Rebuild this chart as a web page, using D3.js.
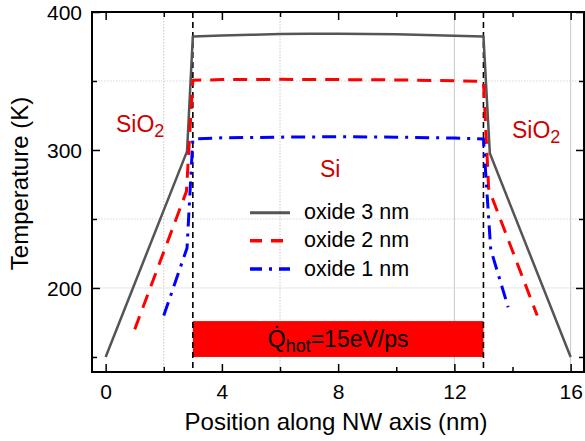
<!DOCTYPE html>
<html><head><meta charset="utf-8">
<script src="https://cdn.jsdelivr.net/npm/d3@7"></script>
<style>
body{margin:0;background:#fff;}
svg{display:block;font-family:"Liberation Sans",Arial,sans-serif;}
</style></head>
<body><svg id="c" width="585" height="441"></svg>
<script>
// ---- data ----
const xOxide3 = [0, 2.8, 3, 4, 5, 6, 7, 8, 9, 10, 11, 12, 13, 13.22, 16];
const yOxide3 = [150, 299, 382.3, 383, 383.5, 384, 384.2, 384.2, 384.1, 383.8, 383.3, 382.8, 382.2, 297.6, 150];
const xOxide2 = [1, 2.78, 3, 4, 6, 8, 10, 12, 13, 13.18, 14.85];
const yOxide2 = [170, 270, 350.5, 351, 351.2, 351, 350.8, 350.2, 349.8, 272, 180];
const xOxide1 = [2, 2.8, 3, 4, 6, 8, 10, 12, 13, 13.25, 13.85];
const yOxide1 = [180, 229, 308, 308.8, 309.3, 309.6, 309.3, 308.6, 308, 228, 186];
const seriesNames = ["oxide 3 nm", "oxide 2 nm", "oxide 1 nm"];
const xTicks = [0, 4, 8, 12, 16];
const xMinorTicks = [2, 6, 10, 14];
const yTicks = [200, 300, 400];
const yMinorTicks = [150, 250, 350];
const interfaces = [3, 13];
const heatBand = [150, 176];
const heatLabel = "15eV/ps";

// ---- layout ----
const svg = d3.select("#c");
const L = 92, R = 584, T = 12, B = 372;
const x = d3.scaleLinear().domain([-0.47, 16.46]).range([L, R]);
const y = d3.scaleLinear().domain([139.1, 400]).range([B, T]);

// grid
const g = svg.append("g");
[2, 6].forEach(v => g.append("line").attr("x1", x(v)).attr("x2", x(v)).attr("y1", T).attr("y2", B)
  .attr("stroke", "#c8c8c8").attr("stroke-width", 1).attr("stroke-dasharray", "1.5,1.5"));
[12, 16].forEach(v => g.append("line").attr("x1", x(v)).attr("x2", x(v)).attr("y1", T).attr("y2", B)
  .attr("stroke", "#c8c8c8").attr("stroke-width", 1));
[250, 350].forEach(v => g.append("line").attr("x1", L).attr("x2", R).attr("y1", y(v)).attr("y2", y(v))
  .attr("stroke", "#d8d8d8").attr("stroke-width", 1).attr("stroke-dasharray", "1.5,1.5"));
[200].forEach(v => g.append("line").attr("x1", L).attr("x2", R).attr("y1", y(v)).attr("y2", y(v))
  .attr("stroke", "#e4e4e4").attr("stroke-width", 1));

// heat band
svg.append("rect").attr("x", x(interfaces[0])).attr("width", x(interfaces[1]) - x(interfaces[0]))
  .attr("y", y(heatBand[1])).attr("height", y(heatBand[0]) - y(heatBand[1])).attr("fill", "#ff0000");

// interface dashed lines
interfaces.forEach(v => svg.append("line").attr("x1", x(v)).attr("x2", x(v)).attr("y1", T).attr("y2", B)
  .attr("stroke", "#000").attr("stroke-width", 1.6).attr("stroke-dasharray", "6,4"));

// series
const line = d3.line().x(d => x(d[0])).y(d => y(d[1]));
const series = [
  {xs: xOxide3, ys: yOxide3, color: "#555555", w: 2.5, dash: null},
  {xs: xOxide2, ys: yOxide2, color: "#ff0000", w: 3, dash: "14,9"},
  {xs: xOxide1, ys: yOxide1, color: "#0000ff", w: 3, dash: "14,7,3,7"}
];
series.forEach(s => {
  const pts = s.xs.map((v, i) => [v, s.ys[i]]);
  svg.append("path").attr("d", line(pts)).attr("fill", "none").attr("stroke", s.color)
    .attr("stroke-width", s.w).attr("stroke-dasharray", s.dash).attr("stroke-linejoin", "round");
});

// axes frame & ticks
const ax = svg.append("g");
ax.append("rect").attr("x", L).attr("y", T).attr("width", R - L).attr("height", B - T)
  .attr("fill", "none").attr("stroke", "#000").attr("stroke-width", 2);
const xAxB = d3.axisBottom(x).tickValues(xTicks).tickSize(-8).tickPadding(12).tickFormat(d3.format("d"));
const gx = ax.append("g").attr("transform", `translate(0,${B})`).call(xAxB);
const gxm = ax.append("g").attr("transform", `translate(0,${B})`).call(d3.axisBottom(x).tickValues(xMinorTicks).tickSize(-5).tickFormat(""));
const gxt = ax.append("g").attr("transform", `translate(0,${T})`).call(d3.axisTop(x).tickValues(xTicks).tickSize(-8).tickFormat(""));
const gxtm = ax.append("g").attr("transform", `translate(0,${T})`).call(d3.axisTop(x).tickValues(xMinorTicks).tickSize(-5).tickFormat(""));
const gy = ax.append("g").attr("transform", `translate(${L},0)`).call(d3.axisLeft(y).tickValues(yTicks).tickSize(-8).tickPadding(10));
const gym = ax.append("g").attr("transform", `translate(${L},0)`).call(d3.axisLeft(y).tickValues(yMinorTicks).tickSize(-5).tickFormat(""));
const gyr = ax.append("g").attr("transform", `translate(${R},0)`).call(d3.axisRight(y).tickValues(yTicks).tickSize(-8).tickFormat(""));
const gyrm = ax.append("g").attr("transform", `translate(${R},0)`).call(d3.axisRight(y).tickValues(yMinorTicks).tickSize(-5).tickFormat(""));
[gx, gxm, gxt, gxtm, gy, gym, gyr, gyrm].forEach(a => {
  a.select(".domain").remove();
  a.selectAll(".tick line").attr("stroke", "#000").attr("stroke-width", 1.5);
  a.selectAll("text").attr("font-family", "Liberation Sans, Arial, sans-serif").attr("font-size", 21).attr("fill", "#000");
});
gy.selectAll("text").attr("dy", "0.36em");

// axis titles
svg.append("text").attr("x", (L + R) / 2 - 2).attr("y", 430).attr("text-anchor", "middle")
  .attr("font-size", 24).text("Position along NW axis (nm)");
svg.append("text").attr("transform", `translate(28,${(95 + 272) / 2}) rotate(-90)`).attr("text-anchor", "middle")
  .attr("font-size", 24).text("Temperature (K)");

// region labels
const red = "#d00000";
function sio2(px, py) {
  const t = svg.append("text").attr("x", px).attr("y", py).attr("font-size", 23).attr("fill", red);
  t.append("tspan").text("SiO");
  t.append("tspan").attr("font-size", 18).attr("dy", 5).text("2");
}
sio2(116, 132);
sio2(512, 138);
svg.append("text").attr("x", 320).attr("y", 177).attr("font-size", 23).attr("fill", red).text("Si");

// heat label
const q = svg.append("text").attr("x", (x(interfaces[0]) + x(interfaces[1])) / 2).attr("y", 346.5)
  .attr("text-anchor", "middle").attr("font-size", 23).attr("fill", "#000");
q.append("tspan").text("Q\u0307");
q.append("tspan").attr("font-size", 18).attr("dy", 5).text("hot");
q.append("tspan").attr("font-size", 23).attr("dy", -5).text("=" + heatLabel);

// legend
const legY = [212.7, 240.7, 269];
series.forEach((s, i) => {
  svg.append("line").attr("x1", 250).attr("x2", 290).attr("y1", legY[i]).attr("y2", legY[i])
    .attr("stroke", s.color).attr("stroke-width", s.w + 0.5)
    .attr("stroke-dasharray", i === 1 ? "12,9" : (i === 2 ? "12,7,3,7" : null));
  svg.append("text").attr("x", 304).attr("y", legY[i] + 6.5).attr("font-size", 21.5).attr("fill", "#000").text(seriesNames[i]);
});
</script></body></html>
